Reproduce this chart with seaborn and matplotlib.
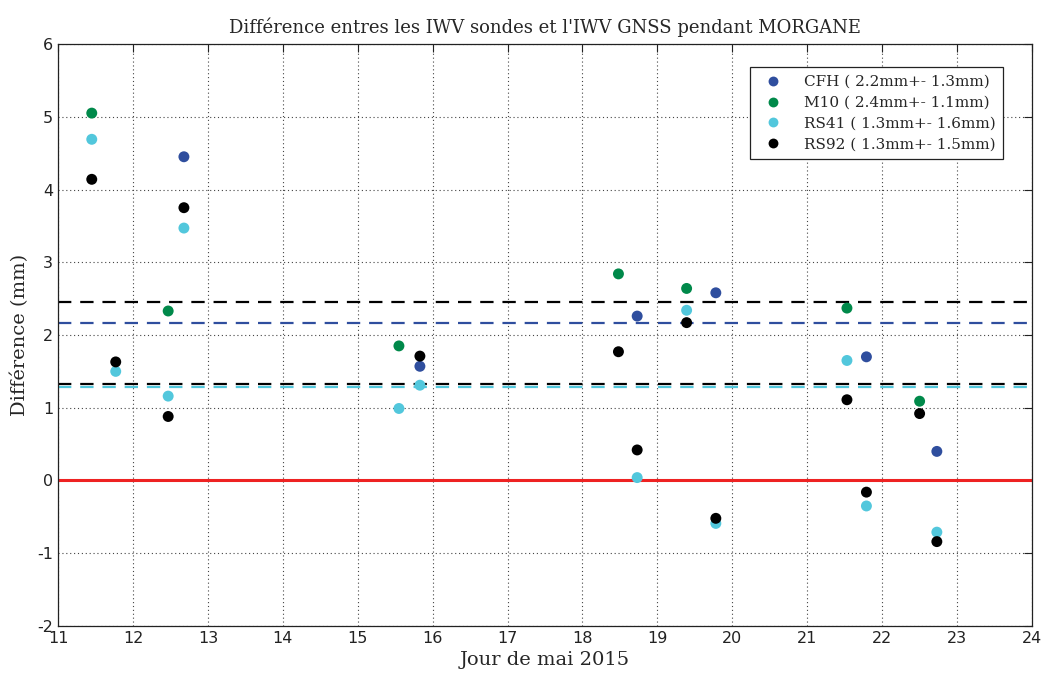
"""Différence IWV sondes - IWV GNSS pendant MORGANE."""

import matplotlib
matplotlib.use("Agg")
import matplotlib.pyplot as plt
import pandas as pd
import seaborn as sns

PROBES = ["CFH", "M10", "RS41", "RS92"]
PROBE_LABELS = [
    "CFH ( 2.2mm+- 1.3mm)",
    "M10 ( 2.4mm+- 1.1mm)",
    "RS41 ( 1.3mm+- 1.6mm)",
    "RS92 ( 1.3mm+- 1.5mm)",
]
PROBE_COLORS = ["#2f4e9e", "#00894a", "#52c7dc", "#000000"]

cfh_days = [12.68, 15.83, 18.73, 19.78, 21.79, 22.73]
cfh_diff = [4.45, 1.57, 2.26, 2.58, 1.70, 0.40]

m10_days = [11.45, 12.47, 15.55, 18.48, 19.39, 21.53, 22.50]
m10_diff = [5.05, 2.33, 1.85, 2.84, 2.64, 2.37, 1.09]

rs41_days = [11.45, 11.77, 12.47, 12.68, 15.55, 15.83, 18.73, 19.39, 19.78,
             21.53, 21.79, 22.73]
rs41_diff = [4.69, 1.50, 1.16, 3.47, 0.99, 1.31, 0.04, 2.34, -0.59,
             1.65, -0.35, -0.71]

rs92_days = [11.45, 11.77, 12.47, 12.68, 15.83, 18.48, 18.73, 19.39, 19.78,
             21.53, 21.79, 22.50, 22.73]
rs92_diff = [4.14, 1.63, 0.88, 3.75, 1.71, 1.77, 0.42, 2.17, -0.52,
             1.11, -0.16, 0.92, -0.84]

# mean lines (as drawn in the original)
mean_values = [2.46, 2.17, 1.32, 1.28]
mean_colors = ["#000000", "#2f4e9e", "#000000", "#52c7dc"]

x_ticks = list(range(11, 25))
y_ticks = list(range(-2, 7))

frames = []
for name, label, days, diff in zip(
    PROBES, PROBE_LABELS,
    [cfh_days, m10_days, rs41_days, rs92_days],
    [cfh_diff, m10_diff, rs41_diff, rs92_diff],
):
    frames.append(pd.DataFrame({"jour": days, "diff": diff, "sonde": label}))
data = pd.concat(frames, ignore_index=True)

sns.set_style("white")
plt.rcParams["font.family"] = ["DejaVu Sans"]
plt.rcParams["axes.unicode_minus"] = False

fig = plt.figure(figsize=(10.44, 6.78), dpi=100)
ax = fig.add_axes([0.0556, 0.0767, 0.9329, 0.8584])

ax.grid(True, color="#444444", linestyle=(0, (1, 2.5)), linewidth=0.8)
ax.set_axisbelow(True)

for value, color in zip(mean_values, mean_colors):
    ax.axhline(value, color=color, linestyle=(0, (6, 4)), linewidth=1.6, zorder=2)
ax.axhline(0, color="#ee2222", linewidth=2.2, zorder=2)

sns.scatterplot(
    data=data, x="jour", y="diff", hue="sonde",
    hue_order=PROBE_LABELS, palette=PROBE_COLORS,
    s=62, edgecolor="none", ax=ax, zorder=3,
)

ax.set_xlim(11, 24)
ax.set_ylim(-2, 6)
ax.set_xticks(x_ticks)
ax.set_yticks(y_ticks)
ax.tick_params(direction="in", length=6, width=0.8, labelsize=11.5,
               top=True, right=True, colors="#222222")
for spine in ax.spines.values():
    spine.set_color("#222222")
    spine.set_linewidth(0.9)

serif = ["DejaVu Serif"]
ax.set_title("Différence entres les IWV sondes et l'IWV GNSS pendant MORGANE",
             family=serif, fontsize=13, pad=8)
ax.set_xlabel("Jour de mai 2015", family=serif, fontsize=14, labelpad=4)
ax.set_ylabel("Différence (mm)", family=serif, fontsize=14, labelpad=6)

leg = ax.legend(loc="upper right", bbox_to_anchor=(0.978, 0.973),
                frameon=True, fancybox=False, framealpha=1, edgecolor="#222222",
                prop={"family": serif, "size": 11}, handletextpad=1.0,
                borderpad=0.5, labelspacing=0.45, markerscale=0.9)
leg.get_frame().set_linewidth(0.9)

fig.savefig("out.png", dpi=100)
